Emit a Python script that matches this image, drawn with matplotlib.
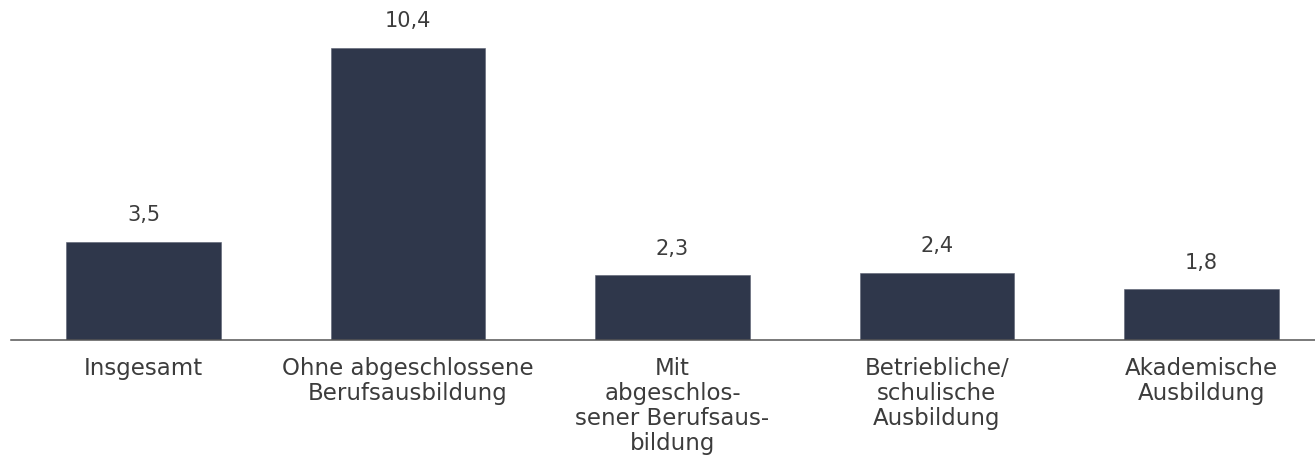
import matplotlib
matplotlib.use("Agg")
import matplotlib.pyplot as plt

categories = [
    "Insgesamt",
    "Ohne abgeschlossene\nBerufsausbildung",
    "Mit\nabgeschlos-\nsener Berufsaus-\nbildung",
    "Betriebliche/\nschulische\nAusbildung",
    "Akademische\nAusbildung",
]
values = [3.5, 10.4, 2.3, 2.4, 1.8]

plt.rcParams['font.family'] = ['DejaVu Sans']

W, H = 1315, 466
fig = plt.figure(figsize=(W / 100, H / 100), dpi=100)
ax = fig.add_axes([11 / W, 126 / H, 1 - 11 / W, 340 / H])

x = list(range(len(values)))
bars = ax.bar(x, values, width=0.585, color="#2f374b", edgecolor="#5a6070", linewidth=0.4, zorder=2)

ax.set_xlim(-0.502, 4.43)
ax.set_ylim(0, 12.11)

ax.bar_label(bars, labels=[f"{v:.1f}".replace(".", ",") for v in values],
             padding=12, fontsize=15, color="#3c3c3c")

ax.set_xticks(x)
ax.set_xticklabels(categories, fontsize=16.5, color="#3c3c3c", linespacing=1.12)
ax.tick_params(axis="x", length=0, pad=12)
ax.set_yticks([])

for s in ["top", "left", "right"]:
    ax.spines[s].set_visible(False)
ax.spines["bottom"].set_color("#555555")
ax.spines["bottom"].set_linewidth(1.1)
ax.patch.set_alpha(0)

fig.savefig("out.png", dpi=100)
